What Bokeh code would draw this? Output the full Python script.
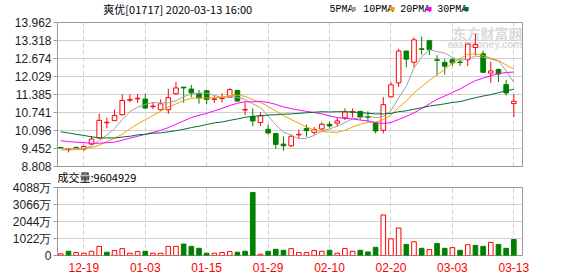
from bokeh.plotting import figure
from bokeh.models import Range1d, FixedTicker, Label, ColumnDataSource, PrintfTickFormatter
from bokeh.layouts import column
from bokeh.embed import file_html
from bokeh.resources import INLINE
from bokeh.core.properties import value

# ---------------- data ----------------
dates = ["12-16", "12-17", "12-18", "12-19", "12-20", "12-23", "12-24", "12-27", "12-30", "12-31",
         "01-02", "01-03", "01-06", "01-07", "01-08", "01-09", "01-10", "01-13", "01-14", "01-15",
         "01-16", "01-17", "01-20", "01-21", "01-22", "01-23", "01-24", "01-29", "01-30", "01-31",
         "02-03", "02-04", "02-05", "02-06", "02-07", "02-10", "02-11", "02-12", "02-13", "02-14",
         "02-17", "02-18", "02-19", "02-20", "02-21", "02-24", "02-25", "02-26", "02-27", "02-28",
         "03-02", "03-03", "03-04", "03-05", "03-06", "03-09", "03-10", "03-11", "03-12", "03-13"]

open_ = [9.49, 9.42, 9.49, 9.43, 9.61, 9.83, 10.37, 10.45, 10.66, 11.18,
         11.23, 11.22, 10.95, 10.84, 10.84, 11.41, 11.65, 11.58, 11.41, 11.52,
         11.21, 11.24, 11.29, 11.53, 10.83, 10.60, 10.38, 10.14, 9.99, 9.61,
         9.55, 9.94, 10.17, 10.03, 10.15, 10.32, 10.36, 10.55, 10.75, 10.78,
         10.59, 10.36, 10.10, 11.30, 11.80, 12.94, 12.54, 13.02, 13.31, 12.63,
         12.53, 12.63, 12.55, 12.63, 13.07, 12.84, 12.15, 12.28, 11.74, 11.06]
close = [9.47, 9.44, 9.47, 9.52, 9.79, 10.46, 10.39, 10.63, 11.17, 11.21,
         11.25, 10.90, 10.97, 11.05, 11.27, 11.62, 11.62, 11.44, 11.26, 11.21,
         11.23, 11.26, 11.56, 11.15, 10.85, 10.44, 10.62, 10.01, 9.60, 9.55,
         9.89, 9.96, 10.09, 10.13, 10.32, 10.26, 10.44, 10.76, 10.77, 10.58,
         10.57, 10.08, 11.02, 11.73, 12.94, 12.65, 13.34, 13.00, 13.00, 12.61,
         12.40, 12.52, 12.53, 13.19, 13.17, 12.18, 12.23, 12.12, 11.44, 11.14]
high = [9.50, 9.48, 9.52, 9.57, 9.90, 10.70, 10.56, 10.85, 11.39, 11.39,
        11.40, 11.41, 11.10, 11.21, 11.59, 11.83, 11.65, 11.73, 11.55, 11.55,
        11.32, 11.43, 11.61, 11.55, 11.11, 10.89, 10.75, 10.31, 10.00, 9.89,
        9.95, 10.13, 10.31, 10.22, 10.39, 10.42, 10.55, 10.89, 10.89, 10.80,
        10.78, 10.40, 11.29, 11.83, 13.02, 12.95, 13.43, 13.46, 13.32, 12.79,
        12.65, 12.68, 12.66, 13.20, 13.55, 12.95, 12.55, 12.32, 11.91, 11.39]
low = [9.45, 9.31, 9.43, 9.37, 9.58, 9.80, 10.17, 10.45, 10.64, 11.11,
       11.08, 10.87, 10.86, 10.82, 10.69, 11.37, 11.09, 11.29, 11.06, 11.03,
       11.08, 11.10, 11.28, 11.14, 10.65, 10.25, 10.26, 9.95, 9.44, 9.37,
       9.51, 9.83, 9.87, 9.95, 10.11, 10.20, 10.25, 10.47, 10.56, 10.48,
       10.42, 9.99, 9.99, 11.27, 11.66, 12.36, 12.36, 12.81, 12.80, 12.06,
       12.10, 12.40, 12.41, 12.40, 12.78, 12.17, 11.80, 11.83, 11.35, 10.58]

ma5 = [9.40, 9.40, 9.41, 9.43, 9.54, 9.74, 9.93, 10.16, 10.49, 10.77,
       10.93, 11.03, 11.10, 11.08, 11.09, 11.16, 11.31, 11.40, 11.44, 11.43,
       11.35, 11.28, 11.30, 11.28, 11.21, 11.05, 10.92, 10.61, 10.30, 10.04,
       9.93, 9.80, 9.82, 9.92, 10.08, 10.15, 10.25, 10.38, 10.51, 10.56,
       10.62, 10.55, 10.60, 10.80, 11.27, 11.68, 12.34, 12.73, 12.99, 12.92,
       12.87, 12.71, 12.61, 12.65, 12.76, 12.72, 12.66, 12.58, 12.23, 11.82]
ma10 = [9.45, 9.45, 9.45, 9.46, 9.48, 9.57, 9.70, 9.82, 9.96, 10.16,
        10.33, 10.48, 10.63, 10.78, 10.93, 11.05, 11.17, 11.25, 11.26, 11.26,
        11.26, 11.29, 11.35, 11.36, 11.32, 11.20, 11.10, 10.96, 10.79, 10.63,
        10.49, 10.36, 10.22, 10.11, 10.06, 10.04, 10.03, 10.10, 10.22, 10.32,
        10.39, 10.40, 10.49, 10.65, 10.92, 11.15, 11.44, 11.67, 11.89, 12.09,
        12.28, 12.52, 12.67, 12.82, 12.84, 12.79, 12.68, 12.60, 12.44, 12.29]
ma20 = [9.73, 9.70, 9.68, 9.66, 9.64, 9.64, 9.66, 9.68, 9.75, 9.82,
        9.89, 9.96, 10.03, 10.10, 10.20, 10.32, 10.44, 10.56, 10.64, 10.71,
        10.80, 10.89, 10.99, 11.07, 11.13, 11.12, 11.14, 11.10, 11.03, 10.94,
        10.88, 10.83, 10.78, 10.74, 10.69, 10.62, 10.56, 10.53, 10.51, 10.47,
        10.44, 10.38, 10.35, 10.38, 10.49, 10.60, 10.73, 10.88, 11.05, 11.21,
        11.33, 11.46, 11.58, 11.74, 11.88, 11.97, 12.06, 12.13, 12.17, 12.19]
ma30 = [10.05, 10.01, 9.96, 9.92, 9.87, 9.83, 9.83, 9.83, 9.86, 9.89,
        9.94, 9.96, 10.00, 10.01, 10.05, 10.09, 10.14, 10.20, 10.25, 10.31,
        10.37, 10.40, 10.46, 10.51, 10.57, 10.60, 10.63, 10.65, 10.66, 10.68,
        10.69, 10.71, 10.73, 10.75, 10.77, 10.76, 10.77, 10.77, 10.76, 10.74,
        10.71, 10.69, 10.69, 10.71, 10.77, 10.80, 10.86, 10.91, 10.97, 11.01,
        11.05, 11.10, 11.13, 11.20, 11.27, 11.33, 11.38, 11.45, 11.52, 11.57]

# volume in 万 (10k shares)
volume = [100, 255, 177, 138, 255, 550, 196, 295, 413, 138,
          236, 255, 138, 138, 550, 550, 688, 550, 432, 138,
          138, 177, 236, 196, 255, 3792, 80, 255, 373, 314,
          413, 177, 177, 295, 255, 314, 138, 413, 255, 314,
          216, 491, 2437, 1002, 1651, 668, 825, 432, 354, 727,
          432, 472, 314, 648, 609, 550, 786, 668, 432, 960]
vol_up = [1, 0, 1, 1, 1, 1, 0, 1, 1, 1,
          1, 0, 1, 1, 1, 1, 0, 0, 0, 0,
          1, 1, 1, 0, 0, 0, 1, 0, 0, 0,
          1, 1, 1, 1, 1, 0, 1, 1, 1, 0,
          0, 0, 1, 1, 1, 0, 1, 0, 1, 0,
          0, 1, 0, 1, 0, 0, 1, 0, 0, 0]

price_ticks = [8.808, 9.452, 10.096, 10.741, 11.385, 12.029, 12.674, 13.318, 13.962]
vol_ticks = [0, 1022, 2044, 3066, 4088]
vol_tick_labels = ["0", "1022万", "2044万", "3066万", "4088万"]
date_tick_idx = [3, 11, 19, 27, 35, 43, 51, 59]

title_text = "爽优[01717] 2020-03-13 16:00"
vol_title = "成交量:9604929"
ma_names = ["5PMA", "10PMA", "20PMA", "30PMA"]

# ---------------- styles ----------------
RED = "#ff0000"
GREEN = "#008000"
GRID = "#d0d0d0"
FRAME = "#9a9a9a"
MA_COLORS = ["#a0a0a0", "#f0a000", "#ff00ff", "#006f30"]
NUM_FONT = "Liberation Sans"
CJK_FONT = "Noto Sans CJK SC"
W = 578

xs = list(range(len(dates)))
up = [c >= o for o, c in zip(open_, close)]
src = ColumnDataSource(dict(
    x=xs, h=high, l=low,
    top=[max(o, c) for o, c in zip(open_, close)],
    bottom=[min(o, c) for o, c in zip(open_, close)],
    color=[RED if u else GREEN for u in up],
    fill=["white" if u else GREEN for u in up],
))

x_range = Range1d(-0.43, 60.13)

# ---------------- header row (title + MA legend) ----------------
H1 = 17
h1 = figure(width=W, height=H1, output_backend="svg", toolbar_location=None,
            x_range=Range1d(0, W), y_range=Range1d(0, H1),
            x_axis_location=None, y_axis_location=None,
            min_border=0, min_border_left=0, min_border_right=0,
            min_border_top=0, min_border_bottom=0)
h1.outline_line_color = None
h1.grid.visible = False
h1.background_fill_color = "white"
h1.border_fill_color = "white"

yc = H1 - 8.5
h1.text(x=[57], y=[yc], text=[title_text], text_font=value(CJK_FONT),
        text_font_size="11px", text_color="#000000", text_baseline="middle")
legend_text_x = [338, 380, 426, 472]
legend_box_l = [365, 413, 459, 505]
h1.text(x=legend_text_x, y=[yc] * 4, text=ma_names, text_font=value("Liberation Mono"),
        text_font_size="10px", text_color="#000000", text_baseline="middle")
h1.quad(left=legend_box_l, right=[b + 6 for b in legend_box_l],
        bottom=[yc - 2] * 4, top=[yc + 2] * 4, fill_color=MA_COLORS, line_color=None)

# ---------------- price panel ----------------
H2 = 157
p = figure(width=W, height=H2, output_backend="svg", toolbar_location=None,
           x_range=x_range, y_range=Range1d(price_ticks[0], price_ticks[-1]),
           x_axis_location=None, y_axis_location="left",
           min_border_left=57, min_border_right=56, min_border_top=5, min_border_bottom=8)
p.outline_line_color = FRAME
p.background_fill_color = "white"
p.border_fill_color = "white"

p.xgrid.ticker = FixedTicker(ticks=date_tick_idx)
p.xgrid.grid_line_color = GRID
p.xgrid.grid_line_dash = "4 3"
p.ygrid.ticker = FixedTicker(ticks=price_ticks)
p.ygrid.grid_line_color = GRID

ya = p.yaxis[0]
ya.ticker = FixedTicker(ticks=price_ticks)
ya.formatter = PrintfTickFormatter(format="%.3f")
ya.axis_line_color = FRAME
ya.major_tick_line_color = FRAME
ya.major_tick_out = 4
ya.major_tick_in = 0
ya.minor_tick_line_color = None
ya.major_label_text_font = NUM_FONT
ya.major_label_text_font_size = "12px"
ya.major_label_text_color = "#222222"
ya.major_label_standoff = 2

wm1 = Label(x=395, y=134, x_units="screen", y_units="screen", text="东方财富网",
            text_font=CJK_FONT, text_font_size="14px", text_font_style="bold",
            text_color="#dadada", text_baseline="middle", level="underlay")
wm2 = Label(x=390, y=122, x_units="screen", y_units="screen", text="eastmoney.com",
            text_font=NUM_FONT, text_font_size="10px", text_font_style="bold",
            text_color="#dadada", text_baseline="middle", level="underlay")
p.add_layout(wm1)
p.add_layout(wm2)

p.segment(x0="x", y0="l", x1="x", y1="h", source=src, line_color="color", line_width=1)
p.vbar(x="x", width=0.6, top="top", bottom="bottom", source=src,
       fill_color="fill", line_color="color", line_width=1)

for ma, col in zip([ma5, ma10, ma20, ma30], MA_COLORS):
    p.line(xs, ma, line_color=col, line_width=1)

# ---------------- volume panel ----------------
vsrc = ColumnDataSource(dict(
    x=xs, v=volume,
    color=[RED if u else GREEN for u in vol_up],
    fill=["white" if u else GREEN for u in vol_up],
))

OVERLAP = 10
v = figure(width=W, height=276 - H1 - H2 + OVERLAP, output_backend="svg", toolbar_location=None,
           x_range=x_range, y_range=Range1d(vol_ticks[0], vol_ticks[-1]),
           min_border_left=57, min_border_right=56, min_border_top=14, min_border_bottom=21)
v.outline_line_color = FRAME
v.background_fill_color = "white"
v.border_fill_color = None
v.margin = (-OVERLAP, 0, 0, 0)

v.title.text = vol_title
v.title.align = "left"
v.title.text_font = CJK_FONT
v.title.text_font_size = "11px"
v.title.text_font_style = "normal"
v.title.text_color = "#000000"
v.title.offset = 0
v.title.standoff = 5

v.xgrid.ticker = FixedTicker(ticks=date_tick_idx)
v.xgrid.grid_line_color = GRID
v.xgrid.grid_line_dash = "4 3"
v.ygrid.ticker = FixedTicker(ticks=vol_ticks)
v.ygrid.grid_line_color = GRID

xa = v.xaxis[0]
xa.ticker = FixedTicker(ticks=date_tick_idx)
xa.major_label_overrides = {i: dates[i] for i in date_tick_idx}
xa.axis_line_color = None
xa.major_tick_line_color = None
xa.minor_tick_line_color = None
xa.major_label_text_color = RED
xa.major_label_text_font = NUM_FONT
xa.major_label_text_font_size = "12px"
xa.major_label_standoff = 1

vya = v.yaxis[0]
vya.ticker = FixedTicker(ticks=vol_ticks)
vya.major_label_overrides = {t: s for t, s in zip(vol_ticks, vol_tick_labels)}
vya.axis_line_color = FRAME
vya.major_tick_line_color = FRAME
vya.major_tick_out = 4
vya.major_tick_in = 0
vya.minor_tick_line_color = None
vya.major_label_text_font = NUM_FONT
vya.major_label_text_font_size = "12px"
vya.major_label_text_color = "#222222"
vya.major_label_standoff = 2

v.vbar(x="x", width=0.6, top="v", bottom=0, source=vsrc,
       fill_color="fill", line_color="color", line_width=1)

layout = column(h1, p, v, spacing=0)
open("out.html", "w").write(file_html(layout, INLINE))
